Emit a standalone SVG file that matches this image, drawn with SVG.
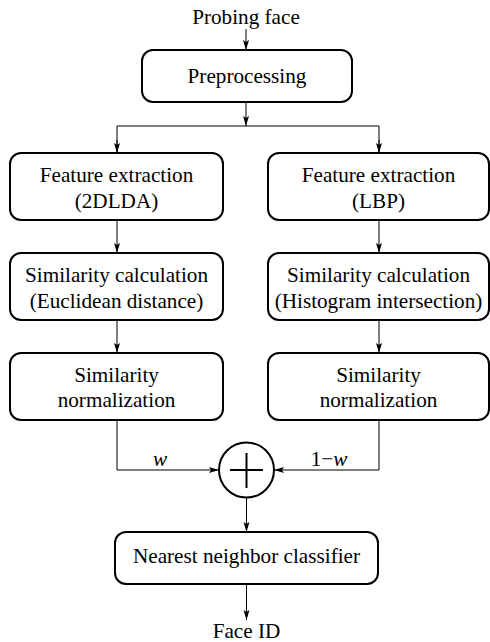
<svg xmlns="http://www.w3.org/2000/svg" width="490" height="642" viewBox="0 0 490 642" font-family="'Liberation Serif', Tinos, 'Times New Roman', 'DejaVu Serif', serif">
<style>
.box{fill:#fff;stroke:#000;stroke-width:2}
.ln{fill:none;stroke:#000;stroke-width:1}
text{font-family:'Liberation Serif', Tinos, 'Times New Roman', 'DejaVu Serif', serif;font-size:21.2px;fill:#000;text-anchor:middle}
.it{font-style:italic}
</style>
<defs>
<marker id="ah" viewBox="0 0 10 10" refX="10" refY="5" markerWidth="10" markerHeight="10" markerUnits="userSpaceOnUse" orient="auto">
<path d="M0,2 L10,5 L0,8 L2,5 Z" fill="#000"/>
</marker>
</defs>
<g id="connectors">
<line class="ln" x1="246" y1="29" x2="246" y2="50" marker-end="url(#ah)"/>
<line class="ln" x1="246" y1="102" x2="246" y2="126" marker-end="url(#ah)"/>
<polyline class="ln" points="117,153 117,126 379,126 379,153"/>
<line class="ln" x1="117" y1="140" x2="117" y2="153" marker-end="url(#ah)"/>
<line class="ln" x1="379" y1="140" x2="379" y2="153" marker-end="url(#ah)"/>
<line class="ln" x1="117" y1="220" x2="117" y2="253" marker-end="url(#ah)"/>
<line class="ln" x1="379" y1="220" x2="379" y2="253" marker-end="url(#ah)"/>
<line class="ln" x1="117" y1="320" x2="117" y2="353" marker-end="url(#ah)"/>
<line class="ln" x1="379" y1="320" x2="379" y2="353" marker-end="url(#ah)"/>
<polyline class="ln" points="117,420 117,470 219,470" marker-end="url(#ah)"/>
<polyline class="ln" points="379,420 379,470 274,470" marker-end="url(#ah)"/>
<line class="ln" x1="246.5" y1="498" x2="246.5" y2="532" marker-end="url(#ah)"/>
<line class="ln" x1="246.5" y1="584" x2="246.5" y2="620" marker-end="url(#ah)"/>
<text class="it" x="160" y="466">w</text>
<text x="329" y="466">1−<tspan class="it">w</tspan></text>
</g>
<g id="probing-face"><text x="246" y="24">Probing face</text></g>
<g id="preprocessing">
<rect class="box" x="142" y="50" width="210" height="52" rx="11"/>
<text x="247" y="83">Preprocessing</text>
</g>
<g id="fe-2dlda">
<rect class="box" x="10" y="153" width="213" height="67" rx="11"/>
<text x="116.5" y="182">Feature extraction</text>
<text x="116.5" y="208">(2DLDA)</text>
</g>
<g id="fe-lbp">
<rect class="box" x="268" y="153" width="221" height="67" rx="11"/>
<text x="378.5" y="182">Feature extraction</text>
<text x="378.5" y="208">(LBP)</text>
</g>
<g id="sc-euclid">
<rect class="box" x="10" y="253" width="213" height="67" rx="11"/>
<text x="116.5" y="282">Similarity calculation</text>
<text x="116.5" y="308">(Euclidean distance)</text>
</g>
<g id="sc-hist">
<rect class="box" x="268" y="253" width="221" height="67" rx="11"/>
<text x="378.5" y="282">Similarity calculation</text>
<text x="378.5" y="308">(Histogram intersection)</text>
</g>
<g id="sn-left">
<rect class="box" x="10" y="353" width="213" height="67" rx="11"/>
<text x="116.5" y="382">Similarity</text>
<text x="116.5" y="407">normalization</text>
</g>
<g id="sn-right">
<rect class="box" x="268" y="353" width="221" height="67" rx="11"/>
<text x="378.5" y="382">Similarity</text>
<text x="378.5" y="407">normalization</text>
</g>
<g id="sum">
<circle cx="246.5" cy="470" r="27.5" fill="#fff" stroke="#000" stroke-width="2"/>
<path d="M230,470 H263 M246.5,453 V488" stroke="#000" stroke-width="2" fill="none"/>
</g>
<g id="nn-classifier">
<rect class="box" x="115" y="532" width="263" height="52" rx="11"/>
<text x="246.5" y="563">Nearest neighbor classifier</text>
</g>
<g id="face-id"><text x="246.5" y="638">Face ID</text></g>
</svg>
